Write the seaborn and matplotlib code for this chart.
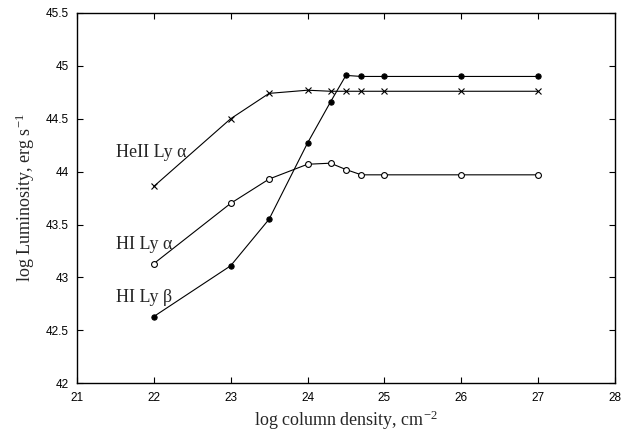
import matplotlib
matplotlib.use("Agg")
import matplotlib.pyplot as plt
import seaborn as sns
import pandas as pd
from matplotlib.ticker import FuncFormatter

col_density = [22, 23, 23.5, 24, 24.3, 24.5, 24.7, 25, 26, 27]
heii_lya = [43.86, 44.50, 44.74, 44.77, 44.76, 44.76, 44.76, 44.76, 44.76, 44.76]
hi_lya = [43.13, 43.70, 43.93, 44.07, 44.08, 44.02, 43.97, 43.97, 43.97, 43.97]
hi_lyb = [42.63, 43.11, 43.55, 44.27, 44.66, 44.91, 44.90, 44.90, 44.90, 44.90]
labels = ["HeII Ly α", "HI Ly α", "HI Ly β"]
xticks = [21, 22, 23, 24, 25, 26, 27, 28]
yticks = [42, 42.5, 43, 43.5, 44, 44.5, 45, 45.5]

sns.set_style("ticks")
plt.rcParams['font.family'] = ['Liberation Sans', 'DejaVu Sans']
plt.rcParams['mathtext.fontset'] = 'custom'
plt.rcParams['mathtext.rm'] = 'Liberation Serif'
plt.rcParams['mathtext.it'] = 'Liberation Serif:italic'

fig = plt.figure(figsize=(6.25, 4.33), dpi=100)
ax = fig.add_axes([0.123, 0.115, 0.861, 0.855])

df = pd.DataFrame({"x": col_density, "heii": heii_lya, "hia": hi_lya, "hib": hi_lyb})
lw = 0.8
sns.lineplot(data=df, x="x", y="heii", ax=ax, color="black", lw=lw, marker="x",
             markersize=4, markeredgewidth=0.8, markeredgecolor="black")
sns.lineplot(data=df, x="x", y="hia", ax=ax, color="black", lw=lw, marker="o",
             markersize=4.2, markerfacecolor="white", markeredgecolor="black", markeredgewidth=0.8)
sns.lineplot(data=df, x="x", y="hib", ax=ax, color="black", lw=lw, marker="o",
             markersize=3.8, markerfacecolor="black", markeredgecolor="black")

ax.set_xlim(21, 28)
ax.set_ylim(42, 45.5)
ax.set_xticks(xticks)
ax.set_yticks(yticks)
ax.yaxis.set_major_formatter(FuncFormatter(lambda v, p: f"{v:g}"))
ax.xaxis.set_major_formatter(FuncFormatter(lambda v, p: f"{v:g}"))
ax.tick_params(direction="in", top=True, right=True, length=4, width=0.8,
               labelsize=8.5, colors="black", pad=6)
for s in ax.spines.values():
    s.set_linewidth(1.0)
    s.set_color("black")

serif = ['Liberation Serif', 'DejaVu Serif']
ax.set_xlabel("log column density, cm$^{-2}$", family=serif, fontsize=13, labelpad=4)
ax.set_ylabel("log Luminosity, erg s$^{-1}$", family=serif, fontsize=13, labelpad=6)

ax.text(21.51, 44.18, labels[0], family=serif, fontsize=13, va="center", ha="left")
ax.text(21.51, 43.31, labels[1], family=serif, fontsize=13, va="center", ha="left")
ax.text(21.51, 42.81, labels[2], family=serif, fontsize=13, va="center", ha="left")

fig.savefig("out.png", dpi=100)
